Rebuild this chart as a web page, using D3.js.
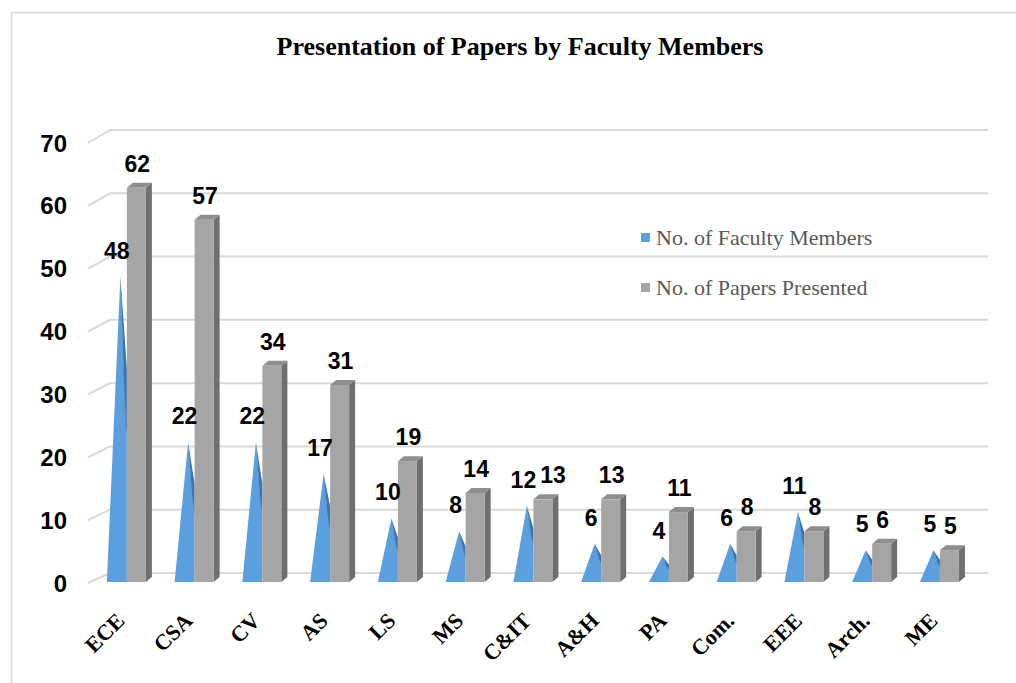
<!DOCTYPE html>
<html>
<head>
<meta charset="utf-8">
<script src="https://cdn.jsdelivr.net/npm/d3@7"></script>
<style>
  body { margin: 0; background: #fff; }
  svg { display: block; }
</style>
</head>
<body>
<svg id="chart" width="1016" height="683"></svg>
<script>
var categories = ['ECE', 'CSA', 'CV', 'AS', 'LS', 'MS', 'C&IT', 'A&H', 'PA', 'Com.', 'EEE', 'Arch.', 'ME'];
var facultyMembers = [48, 22, 22, 17, 10, 8, 12, 6, 4, 6, 11, 5, 5];
var papersPresented = [62, 57, 34, 31, 19, 14, 13, 13, 11, 8, 8, 6, 5];
var yTicks = [0, 10, 20, 30, 40, 50, 60, 70];
var seriesNames = ['No. of Faculty Members', 'No. of Papers Presented'];

var blue = '#5b9fdf', blueDark = '#3d74ad';
var grey = '#a5a5a5', greyTop = '#8e8e8e', greySide = '#6f6f6f';

var svg = d3.select('#chart');

// outer chart border (only top and left are visible in the frame)
svg.append('rect')
    .attr('x', 11.5).attr('y', 12.5)
    .attr('width', 1200).attr('height', 1000)
    .attr('fill', 'none')
    .attr('stroke', '#d9d9d9')
    .attr('stroke-width', 1.5);

svg.append('text')
    .attr('x', 520).attr('y', 55)
    .attr('text-anchor', 'middle')
    .style('font-family', '"Liberation Serif", "Times New Roman", serif')
    .style('font-weight', 'bold')
    .style('font-size', '26px')
    .text('Presentation of Papers by Faculty Members');

var x = d3.scaleBand().domain(categories).range([93, 973.8]);
var yFront = d3.scaleLinear().domain([0, 70]).range([583, 143]);
var yBack = d3.scaleLinear().domain([0, 70]).range([573, 130]);
var yBar = d3.scaleLinear().domain([0, 70]).range([582, 137]);

// gridlines: back wall line plus slanted floor edge on the left
var grid = svg.append('g');
yTicks.forEach(function(t) {
    grid.append('path')
        .attr('d', 'M88,' + yFront(t) + 'L110,' + yBack(t) + 'L988,' + yBack(t))
        .attr('fill', 'none')
        .attr('stroke', '#d9d9d9')
        .attr('stroke-width', 2);
});

svg.append('g').selectAll('text')
    .data(yTicks)
    .enter().append('text')
    .attr('x', 67)
    .attr('y', function(d) { return yFront(d) + 8.5; })
    .attr('text-anchor', 'end')
    .style('font-family', '"Liberation Sans", Arial, sans-serif')
    .style('font-weight', 'bold')
    .style('font-size', '24px')
    .text(function(d) { return d; });

function center(c) { return x(c) + x.bandwidth() / 2; }

var coneW = 20, barW = 19, dx = 6, dy = 5;

// cones (No. of Faculty Members)
var cones = svg.append('g').selectAll('g')
    .data(categories)
    .enter().append('g');

cones.append('path')
    .attr('d', function(c, i) {
        var cx = center(c), b = yBar(0), top = yBar(facultyMembers[i]);
        var ax = cx - coneW / 2 + 3.5, h = b - top;
        return 'M' + (cx - coneW) + ',' + b + 'L' + cx + ',' + b +
            'L' + cx + ',' + (top + h * 0.55) + 'L' + ax + ',' + top + 'Z';
    })
    .attr('fill', blue);

cones.append('path')
    .attr('d', function(c, i) {
        var cx = center(c), b = yBar(0), top = yBar(facultyMembers[i]);
        var ax = cx - coneW / 2 + 3.5, h = b - top;
        return 'M' + ax + ',' + top + 'L' + cx + ',' + (top + h * 0.3) +
            'L' + cx + ',' + (top + h * 0.55) + 'L' + (cx - 2.5) + ',' + (top + h * 0.38) + 'Z';
    })
    .attr('fill', blueDark);

// 3D bars (No. of Papers Presented)
var bars = svg.append('g').selectAll('g')
    .data(categories)
    .enter().append('g');

bars.append('path')
    .attr('d', function(c, i) {
        var l = center(c), r = l + barW, b = yBar(0), t = yBar(papersPresented[i]);
        return 'M' + r + ',' + t + 'L' + (r + dx) + ',' + (t - dy) + 'L' + (r + dx) + ',' + (b - dy) + 'L' + r + ',' + b + 'Z';
    })
    .attr('fill', greySide);

bars.append('path')
    .attr('d', function(c, i) {
        var l = center(c), r = l + barW, t = yBar(papersPresented[i]);
        return 'M' + l + ',' + t + 'L' + (l + dx) + ',' + (t - dy) + 'L' + (r + dx) + ',' + (t - dy) + 'L' + r + ',' + t + 'Z';
    })
    .attr('fill', greyTop);

bars.append('rect')
    .attr('x', function(c) { return center(c); })
    .attr('y', function(c, i) { return yBar(papersPresented[i]); })
    .attr('width', barW)
    .attr('height', function(c, i) { return yBar(0) - yBar(papersPresented[i]); })
    .attr('fill', grey);

// data labels
var labelFont = '"Liberation Sans", Arial, sans-serif';
var blueLabels = svg.append('g').selectAll('text')
    .data(categories)
    .enter().append('text')
    .attr('x', function(c) { return center(c) - coneW / 2; })
    .attr('y', function(c, i) { return yBar(facultyMembers[i]) - 18; })
    .attr('text-anchor', 'middle')
    .style('font-family', labelFont)
    .style('font-weight', 'bold')
    .style('font-size', '23px')
    .text(function(c, i) { return facultyMembers[i]; });

var blueBoxes = blueLabels.nodes().map(function(n) { return n.getBBox(); });

svg.append('g').selectAll('text')
    .data(categories)
    .enter().append('text')
    .attr('y', function(c, i) { return yBar(papersPresented[i]) - 16; })
    .attr('text-anchor', 'middle')
    .style('font-family', labelFont)
    .style('font-weight', 'bold')
    .style('font-size', '23px')
    .text(function(c, i) { return papersPresented[i]; })
    .attr('x', function(c, i) {
        // nudge right when it would collide with the cone label
        var cx = center(c) + barW / 2 + 1;
        var w = this.getComputedTextLength();
        var bb = blueBoxes[i];
        var gy = yBar(papersPresented[i]) - 16;
        var by = yBar(facultyMembers[i]) - 18;
        if (Math.abs(gy - by) < 18 && cx - w / 2 < bb.x + bb.width + 3) {
            cx = bb.x + bb.width + 4 + w / 2;
        }
        return cx;
    });

// category labels
svg.append('g').selectAll('text')
    .data(categories)
    .enter().append('text')
    .attr('transform', function(c) { return 'translate(' + (center(c) - 1) + ',622) rotate(-45)'; })
    .attr('text-anchor', 'end')
    .style('font-family', '"Liberation Serif", "Times New Roman", serif')
    .style('font-weight', 'bold')
    .style('font-size', '22px')
    .text(function(c) { return c; });

// legend
var legend = svg.append('g').selectAll('g')
    .data(seriesNames)
    .enter().append('g')
    .attr('transform', function(d, i) { return 'translate(641,' + (233 + i * 50) + ')'; });

legend.append('rect')
    .attr('width', 9).attr('height', 9)
    .attr('fill', function(d, i) { return i === 0 ? blue : grey; });

legend.append('text')
    .attr('x', 15).attr('y', 12)
    .attr('fill', '#595959')
    .style('font-family', '"Liberation Serif", "Times New Roman", serif')
    .style('font-size', '22px')
    .text(function(d) { return d; });
</script>
</body>
</html>
